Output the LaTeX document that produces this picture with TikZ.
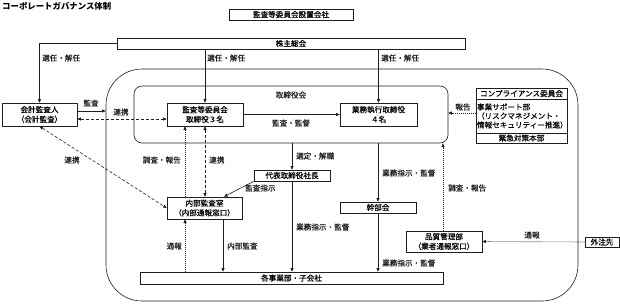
\documentclass[tikz,border=0pt]{standalone}
\usepackage{fontspec}
\setmainfont{Noto Sans CJK JP}
\newfontfamily\cgjp{Noto Sans CJK JP}[FakeBold=0.35]
\usetikzlibrary{arrows.meta}
\definecolor{cgline}{HTML}{1E1E1E}
\newcommand{\cgfont}{\cgjp\fontsize{7.6}{9.6}\selectfont}

\tikzset{
  cgbox/.style={draw=cgline, fill=white, line width=0.6pt, inner sep=0pt,
                align=center, font=\cgfont},
  cgframe/.style={draw=cgline, line width=0.6pt, inner sep=0pt},
  cglabel/.style={inner sep=0pt, font=\cgfont, text=cgline},
  cgarr/.style={draw=cgline, line width=0.6pt, -{Triangle[length=3.5pt,width=3pt]}},
  cgdash/.style={draw=cgline, line width=0.6pt, dash pattern=on 3pt off 2pt,
                 {Triangle[length=3.5pt,width=3pt]}-{Triangle[length=3.5pt,width=3pt]}},
  cgdot/.style={draw=cgline, line width=0.6pt, dash pattern=on 1pt off 1pt,
                -{Triangle[length=3.5pt,width=3pt]}}
}

\begin{document}
\begin{tikzpicture}[x=1pt, y=-1pt]
  \useasboundingbox (0,0) rectangle (620,303);

  \node[anchor=west, inner sep=0pt, font=\fontsize{8.4}{10}\selectfont\bfseries] (title) at (2,6)
    {コーポレートガバナンス体制};
  \node[cgbox, minimum width=124pt, minimum height=11pt] (setchi) at (291,14.5) {監査等委員会設置会社};
  \node[cgbox, minimum width=348pt, minimum height=11pt] (kabunushi) at (291,43.5) {株主総会};

  \node[cgframe, rounded corners=36pt, minimum width=472pt, minimum height=232pt] (outer) at (342,185) {};
  \node[cgframe, rounded corners=8pt, minimum width=314pt, minimum height=57pt] (board) at (291,114.5) {};
  \node[cglabel] (boardname) at (291,95) {取締役会};

  \node[cgbox, minimum width=75pt, minimum height=23pt] (kaikei) at (39.5,114.5) {会計監査人\\（会計監査）};
  \node[cgbox, minimum width=76pt, minimum height=23pt] (kansa) at (205,114.5) {監査等委員会\\取締役３名};
  \node[cgbox, minimum width=77pt, minimum height=23pt] (gyomu) at (378.5,114.5) {業務執行取締役\\４名};
  \node[cgbox, minimum width=76pt, minimum height=11pt] (daihyo) at (292,175.5) {代表取締役社長};
  \node[cgbox, minimum width=75pt, minimum height=22pt] (naibu) at (204.5,208) {内部監査室\\（内部通報窓口）};
  \node[cgbox, minimum width=76pt, minimum height=11pt] (kanbu) at (378,207.5) {幹部会};
  \node[cgbox, minimum width=76pt, minimum height=21pt] (hinshitsu) at (444,241.5) {品質管理部\\（業者通報窓口）};
  \node[cgbox, minimum width=303pt, minimum height=12pt] (jigyo) at (291.5,278) {各事業部・子会社};
  \node[cgbox, minimum width=34pt, minimum height=10pt] (gaichu) at (602,242) {外注先};

  \node[cgbox, minimum width=91pt, minimum height=11pt] (comp1) at (521.5,93.5) {コンプライアンス委員会};
  \node[cgbox, text width=89pt, inner sep=1pt, align=left, minimum height=34pt,
        font=\cgjp\fontsize{7.6}{9}\selectfont] (comp2) at (521.5,116)
    {事業サポート部\\（リスクマネジメント・\\情報セキュリティー推進）};
  \node[cgbox, minimum width=91pt, minimum height=10pt] (comp3) at (521.5,138) {緊急対策本部};

  \draw[cgarr] (kabunushi.west) -| (kaikei.north);
  \draw[cgarr] (kabunushi.south -| kansa.north) -- (kansa.north);
  \draw[cgarr] (kabunushi.south -| gyomu.north) -- (gyomu.north);
  \foreach \x in {42,207,381}
    {\node[cglabel, anchor=west] at (\x,58) {選任・解任};}

  \draw[cgarr] (kansa.east) -- (gyomu.west);
  \node[cglabel] (kansalbl) at (291,123) {監査・監督};

  \draw[cgarr] ([yshift=3.5pt]kaikei.east) -- ([yshift=3.5pt]kaikei.east -| outer.west);
  \node[cglabel] (kansa1) at (91,103) {監査};
  \draw[cgdash] ([yshift=-4.5pt]kaikei.east) -- ([yshift=-4.5pt]kaikei.east -| kansa.west);
  \node[cglabel] (renkei1) at (121,112) {連携};
  \draw[cgdash] (kaikei.south) -- (naibu.west);
  \node[cglabel] (renkei2) at (72,160) {連携};

  \draw[cgdot] ([xshift=-19.5pt]naibu.north) -- ([xshift=-20pt]kansa.south);
  \node[cglabel, anchor=east] (chosa1) at (181,160) {調査・報告};
  \draw[cgdash] (kansa.south) -- (kansa.south |- naibu.north);
  \node[cglabel, anchor=west] (renkei3) at (209,160) {連携};

  \draw[cgarr] (board.south -| daihyo.north) -- (daihyo.north);
  \node[cglabel, anchor=west] (sentei) at (296,156) {選定・解職};
  \draw[cgarr] (daihyo.south west) -- ([xshift=19.5pt]naibu.north);
  \node[cglabel, anchor=west] (shiji) at (245,188) {監査指示};

  \draw[cgarr] (board.south -| kanbu.north) -- (kanbu.north);
  \draw[cgarr] (daihyo.south) -- (daihyo.south |- jigyo.north);
  \draw[cgarr] (kanbu.south) -- (kanbu.south |- jigyo.north);
  \foreach \x/\y in {382/173, 296/227, 382/263}
    {\node[cglabel, anchor=west] at (\x,\y) {業務指示・監督};}

  \draw[cgarr] ([xshift=18.5pt]naibu.south) -- ([xshift=18.5pt]naibu.south |- jigyo.north);
  \node[cglabel, anchor=west] (naibulbl) at (227,246) {内部監査};
  \draw[cgdot] ([xshift=-19.5pt]naibu.south |- jigyo.north) -- ([xshift=-19.5pt]naibu.south);
  \node[cglabel, anchor=east] (tsuho1) at (182,246) {通報};

  \draw[cgdot] ([xshift=-1pt]hinshitsu.north) -- ([xshift=-1pt]hinshitsu.north |- board.south);
  \node[cglabel, anchor=west] (chosa2) at (448,188) {調査・報告};
  \draw[cgdot] (gaichu.west) -- (hinshitsu.east);
  \node[cglabel] (tsuho2) at (532,235) {通報};

  \draw[cgdot] ([yshift=3pt]comp2.west) -- ([yshift=3pt]comp2.west -| board.east);
  \node[cglabel] (hokoku) at (463,107) {報告};
\end{tikzpicture}
\end{document}
